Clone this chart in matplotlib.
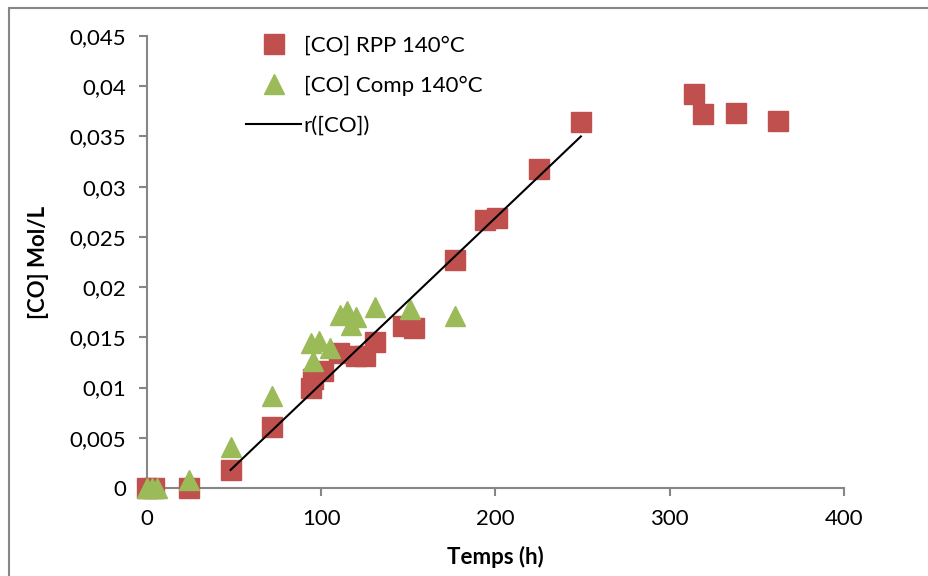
import matplotlib.pyplot as plt
from matplotlib.patches import Rectangle
from matplotlib.ticker import FuncFormatter, MultipleLocator

plt.rcParams['font.family'] = ['Lato', 'DejaVu Sans']

# [CO] RPP 140°C
rpp_t = [0, 4, 24, 48, 72, 94, 95, 101, 110, 120, 125, 131, 147, 153, 177,
         194, 201, 225, 249, 314, 319, 338, 362]
rpp_co = [0, 0, 0, 0.0018, 0.0061, 0.0100, 0.0109, 0.0116, 0.0134, 0.0131,
          0.0131, 0.0145, 0.0161, 0.0159, 0.0227, 0.0267, 0.0269, 0.0318,
          0.0364, 0.0392, 0.0372, 0.0373, 0.0365]

# [CO] Comp 140°C
comp_t = [0, 3, 6, 24, 48, 72, 94, 95, 99, 105, 111, 115, 117, 120, 131, 151, 177]
comp_co = [0, 0, 0, 0.0008, 0.0041, 0.0092, 0.0144, 0.0126, 0.0146, 0.0139,
           0.0172, 0.0176, 0.0162, 0.0170, 0.0180, 0.0178, 0.0171]

# r([CO]) regression line end points
fit_t = [48, 249]
fit_co = [0.0018, 0.0350]

fig = plt.figure(figsize=(9.29, 5.76), dpi=100)
ax = fig.add_axes([0.1582, 0.1528, 0.7503, 0.7847])

ax.plot(rpp_t, rpp_co, 's', color='#C0504D', markersize=14, clip_on=False,
        label='[CO] RPP 140°C')
ax.plot(comp_t, comp_co, '^', color='#9BBB59', markersize=15, clip_on=False,
        label='[CO] Comp 140°C')
ax.plot(fit_t, fit_co, '-', color='black', lw=1.5, label='r([CO])')

ax.set_xlim(0, 400)
ax.set_ylim(0, 0.045)
ax.xaxis.set_major_locator(MultipleLocator(100))
ax.yaxis.set_major_locator(MultipleLocator(0.005))
ax.yaxis.set_major_formatter(FuncFormatter(lambda v, p: ('%g' % round(v, 4)).replace('.', ',')))

for s in ['top', 'right']:
    ax.spines[s].set_visible(False)
for s in ['left', 'bottom']:
    ax.spines[s].set_color('#868686')
    ax.spines[s].set_linewidth(1.5)
    ax.spines[s].set_zorder(0)
ax.tick_params(direction='out', length=6, width=1.5, color='#868686',
               labelsize=16, pad=9)

ax.set_xlabel('Temps (h)', fontsize=16, fontweight='bold', labelpad=12)
ax.set_ylabel('[CO] Mol/L', fontsize=16, fontweight='bold', labelpad=15)

leg = ax.legend(loc='upper left', bbox_to_anchor=(0.255, 0.953),
                bbox_transform=fig.transFigure, frameon=False, fontsize=16,
                handlelength=2.5, labelspacing=0.9, handletextpad=0.1,
                borderaxespad=0)

fig.patches.append(Rectangle((9 / 929, -0.1), 1.2, 1 - 7.5 / 576 + 0.1,
                             transform=fig.transFigure, fill=False,
                             edgecolor='#868686', lw=1.5, clip_on=False))

fig.savefig('out.png', dpi=100)
